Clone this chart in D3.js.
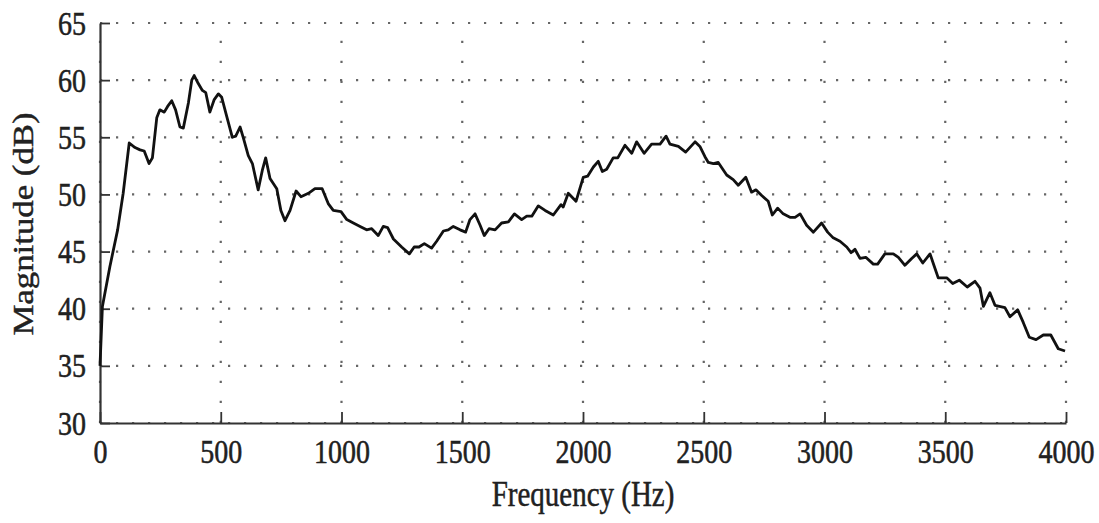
<!DOCTYPE html>
<html>
<head>
<meta charset="utf-8">
<script src="https://cdn.jsdelivr.net/npm/d3@7"></script>
<style>
  body { margin: 0; background: #fff; }
  text { font-family: "Liberation Serif", "DejaVu Serif", serif; fill: #222; }
</style>
</head>
<body>
<script>
// frequency points (Hz)
var freqHz = [0, 10, 41, 73, 96, 121, 145, 166, 183, 203, 217, 235, 248, 266, 280, 297, 313, 331, 345, 366,
  380, 390, 407, 424, 438, 455, 473, 490, 504, 525, 548, 562, 580, 593, 614, 631, 655, 672, 686, 704,
  732, 749, 766, 787, 812, 832, 863, 890, 920, 945, 966, 998, 1022, 1049, 1077, 1104, 1125, 1152, 1173, 1191,
  1215, 1249, 1281, 1301, 1321, 1343, 1373, 1394, 1422, 1442, 1463, 1491, 1514, 1532, 1553, 1574, 1591, 1611, 1636, 1663,
  1691, 1716, 1746, 1767, 1788, 1815, 1843, 1877, 1909, 1918, 1939, 1971, 2001, 2019, 2043, 2063, 2080, 2098, 2125, 2144,
  2174, 2202, 2222, 2253, 2284, 2319, 2344, 2360, 2395, 2425, 2464, 2484, 2505, 2519, 2540, 2560, 2595, 2622, 2643, 2674,
  2698, 2716, 2740, 2767, 2784, 2806, 2829, 2857, 2878, 2899, 2926, 2954, 2988, 3013, 3036, 3064, 3092, 3110, 3126, 3147,
  3171, 3202, 3220, 3250, 3285, 3306, 3333, 3361, 3382, 3407, 3437, 3453, 3471, 3506, 3531, 3558, 3591, 3623, 3644, 3658,
  3685, 3706, 3747, 3768, 3800, 3823, 3848, 3876, 3906, 3937, 3968, 3996];

// magnitude (dB) for each frequency
var magDb = [35.0, 40.2, 43.7, 46.9, 50.1, 54.5, 54.1, 53.9, 53.8, 52.7, 53.2, 56.7, 57.4, 57.2, 57.7, 58.2, 57.4, 55.9, 55.8, 58.0,
  60.0, 60.4, 59.7, 59.1, 58.9, 57.2, 58.3, 58.8, 58.5, 56.8, 55.0, 55.1, 55.9, 55.0, 53.4, 52.7, 50.4, 52.1, 53.2, 51.4,
  50.5, 48.6, 47.7, 48.6, 50.3, 49.8, 50.1, 50.5, 50.5, 49.2, 48.6, 48.5, 47.8, 47.5, 47.2, 46.9, 47.0, 46.4, 47.2, 47.1,
  46.1, 45.4, 44.8, 45.4, 45.4, 45.7, 45.3, 45.9, 46.8, 46.9, 47.2, 46.9, 46.7, 47.8, 48.3, 47.3, 46.4, 47.0, 46.9, 47.5,
  47.6, 48.3, 47.8, 48.1, 48.1, 49.0, 48.6, 48.2, 49.1, 48.9, 50.1, 49.4, 51.5, 51.6, 52.4, 52.9, 52.0, 52.2, 53.2, 53.2,
  54.3, 53.6, 54.6, 53.6, 54.4, 54.4, 55.1, 54.4, 54.2, 53.7, 54.6, 54.2, 53.3, 52.8, 52.7, 52.8, 51.7, 51.3, 50.8, 51.5,
  50.2, 50.4, 49.9, 49.4, 48.2, 48.8, 48.3, 48.0, 48.0, 48.3, 47.3, 46.7, 47.5, 46.7, 46.2, 45.9, 45.4, 44.9, 45.2, 44.4,
  44.5, 43.9, 43.9, 44.8, 44.8, 44.5, 43.8, 44.4, 44.8, 44.0, 44.8, 43.8, 42.7, 42.7, 42.2, 42.5, 41.9, 42.4, 41.8, 40.2,
  41.4, 40.3, 40.1, 39.3, 39.9, 38.8, 37.5, 37.3, 37.7, 37.7, 36.5, 36.3];

var xTicks = [0, 500, 1000, 1500, 2000, 2500, 3000, 3500, 4000];
var yTicks = [30, 35, 40, 45, 50, 55, 60, 65];

var data = freqHz.map(function(f, i) { return {f: f, m: magDb[i]}; });

// margins so the plot box sits where the reference puts it
var margin = {top: 23, right: 33, bottom: 100, left: 100},
    width = 1099 - margin.left - margin.right,
    height = 523 - margin.top - margin.bottom;

var svg = d3.select("body").append("svg")
    .attr("width", 1099)
    .attr("height", 523)
  .append("g")
    .attr("transform", "translate(" + margin.left + "," + margin.top + ")");

var x = d3.scaleLinear().domain([0, 4000]).range([0, width]);
var y = d3.scaleLinear().domain([30, 65]).range([height, 0]);

// dotted grid
svg.append("g").selectAll("line")
    .data(yTicks)
    .enter().append("line")
    .attr("x1", 0).attr("x2", width)
    .attr("y1", d => y(d)).attr("y2", d => y(d))
    .attr("stroke", "#666")
    .attr("stroke-width", 2.2)
    .attr("stroke-dasharray", "2.2,13.8");

svg.append("g").selectAll("line")
    .data(xTicks)
    .enter().append("line")
    .attr("x1", d => x(d)).attr("x2", d => x(d))
    .attr("y1", height).attr("y2", 0)
    .attr("stroke", "#666")
    .attr("stroke-width", 2.2)
    .attr("stroke-dasharray", "2.2,17.8");

// axes, ticks pointing into the plot
var xAxis = svg.append("g")
    .attr("transform", "translate(0," + height + ")")
    .call(d3.axisBottom(x).tickValues(xTicks).tickSizeInner(-11).tickSizeOuter(0).tickFormat(d3.format("d")));

var yAxis = svg.append("g")
    .call(d3.axisLeft(y).tickValues(yTicks).tickSizeInner(-10).tickSizeOuter(0));

[xAxis, yAxis].forEach(function(a) {
  a.select(".domain").attr("stroke", "#333").attr("stroke-width", 2.2);
  a.selectAll(".tick line").attr("stroke", "#333").attr("stroke-width", 1.8);
  a.selectAll("text").attr("font-size", 28).attr("fill", "#1a1a1a")
    .attr("stroke", "#1a1a1a").attr("stroke-width", 0.45)
    .style("font-family", "'Liberation Serif', serif");
});

// glyphs in the reference are a bit taller than wide
xAxis.selectAll("text")
    .attr("y", null).attr("dy", null)
    .attr("transform", "translate(0,40) scale(1,1.2)");

yAxis.selectAll("text")
    .attr("x", null).attr("dy", null)
    .attr("text-anchor", "end")
    .attr("transform", "translate(-14,11) scale(1,1.2)");

// the curve
var line = d3.line()
    .x(d => x(d.f))
    .y(d => y(d.m));

svg.append("path")
    .datum(data)
    .attr("fill", "none")
    .attr("stroke", "#111")
    .attr("stroke-width", 2.8)
    .attr("stroke-linejoin", "round")
    .attr("d", line);

// axis titles
svg.append("text")
    .attr("transform", "translate(" + (width / 2) + "," + (height + 83) + ") scale(1,1.2)")
    .attr("text-anchor", "middle")
    .attr("font-size", 29)
    .attr("fill", "#1a1a1a").attr("stroke", "#1a1a1a").attr("stroke-width", 0.4)
    .text("Frequency (Hz)");

svg.append("text")
    .attr("transform", "translate(" + (33 - margin.left) + "," + (224 - margin.top) + ") rotate(-90) scale(1.2,1)")
    .attr("text-anchor", "middle")
    .attr("font-size", 29)
    .attr("fill", "#1a1a1a").attr("stroke", "#1a1a1a").attr("stroke-width", 0.4)
    .text("Magnitude (dB)");
</script>
</body>
</html>
